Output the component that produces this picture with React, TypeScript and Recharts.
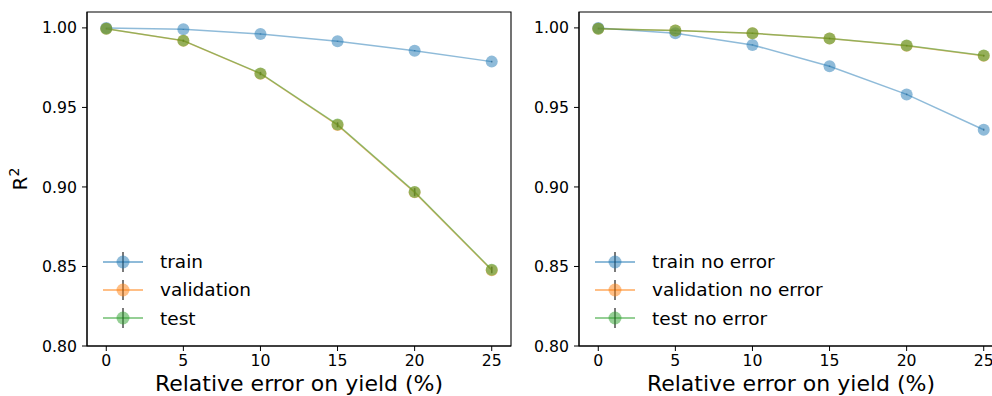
import React from "react";
import {
  LineChart,
  Line,
  XAxis,
  YAxis,
  ErrorBar,
  ReferenceArea,
} from "recharts";

const errorLevels = [0, 5, 10, 15, 20, 25];
const xTicks = [0, 5, 10, 15, 20, 25];
const yTicks = [0.8, 0.85, 0.9, 0.95, 1.0];

// left panel
const trainR2 = [1.0, 0.9991, 0.9962, 0.9916, 0.9857, 0.9788];
const trainErr = [0.0001, 0.0002, 0.0003, 0.0003, 0.0004, 0.0005];
const validationR2 = [0.9994, 0.9919, 0.9712, 0.9389, 0.8966, 0.8477];
const validationErr = [0.0002, 0.0006, 0.001, 0.0015, 0.0025, 0.002];
const testR2 = [0.9994, 0.992, 0.9714, 0.9392, 0.8969, 0.848];
const testErr = [0.0002, 0.0006, 0.001, 0.0015, 0.0025, 0.002];

// right panel
const trainNoErrR2 = [1.0, 0.9966, 0.9893, 0.9759, 0.9582, 0.936];
const trainNoErrErr = [0.0001, 0.0002, 0.0003, 0.0004, 0.0005, 0.0006];
const validationNoErrR2 = [0.9994, 0.9984, 0.9966, 0.9933, 0.9888, 0.9825];
const validationNoErrErr = [0.0002, 0.0003, 0.0003, 0.0004, 0.0004, 0.0005];
const testNoErrR2 = [0.9994, 0.9983, 0.9966, 0.9934, 0.9889, 0.9826];
const testNoErrErr = [0.0002, 0.0003, 0.0003, 0.0004, 0.0004, 0.0005];

const FONT = "DejaVu Sans";
const BLUE = "#1f77b4";
const ORANGE = "#ff7f0e";
const GREEN = "#2ca02c";

type Series = { name: string; color: string; values: number[]; errs: number[] };

const LegendBox = ({ items }: { items: Series[] }) => (
  <div style={{ position: "absolute", left: 103, top: 247.5, fontFamily: FONT, fontSize: 18.5, color: "#000", whiteSpace: "nowrap" }}>
    {items.map((s) => (
      <div key={s.name} style={{ display: "flex", alignItems: "center", height: 28.3 }}>
        <svg width={57} height={28} style={{ display: "block" }}>
          <line x1={0} x2={40} y1={14} y2={14} stroke={s.color} strokeOpacity={0.5} strokeWidth={2} />
          <line x1={20} x2={20} y1={4} y2={24} stroke="#222" strokeOpacity={0.6} strokeWidth={2} />
          <circle cx={20} cy={14} r={6.5} fill={s.color} fillOpacity={0.5} />
        </svg>
        <span>{s.name}</span>
      </div>
    ))}
  </div>
);

const Panel = ({ series, left, yLabel }: { series: Series[]; left: number; yLabel: boolean }) => {
  const data = errorLevels.map((x, i) => {
    const row: Record<string, number> = { x };
    series.forEach((s, k) => {
      row["s" + k] = s.values[i];
      row["e" + k] = s.errs[i];
    });
    return row;
  });

  return (
    <div style={{ position: "absolute", left, top: 0, width: 520, height: 396 }}>
      <LineChart width={520} height={396} data={data} margin={{ top: 12, right: 9, bottom: 0, left: 0 }}>
        <XAxis
          dataKey="x"
          type="number"
          domain={[-1.25, 26.25]}
          ticks={xTicks}
          allowDataOverflow
          height={50}
          tickSize={5}
          tickMargin={4}
          stroke="#000"
          tick={{ fill: "#000", fontSize: 15.7, fontFamily: FONT }}
          label={({ viewBox }: any) => (
            <text
              x={viewBox.x + viewBox.width / 2}
              y={391}
              textAnchor="middle"
              fontFamily={FONT}
              fontSize={22}
              fill="#000"
            >
              Relative error on yield (%)
            </text>
          )}
        />
        <YAxis
          type="number"
          domain={[0.8, 1.01]}
          ticks={yTicks}
          allowDataOverflow
          width={87}
          tickSize={5}
          tickMargin={5}
          stroke="#000"
          tickFormatter={(v: number) => v.toFixed(2)}
          tick={{ fill: "#000", fontSize: 15.7, fontFamily: FONT }}
          label={
            yLabel
              ? ({ viewBox }: any) => {
                  const cy = viewBox.y + viewBox.height / 2;
                  return (
                    <text
                      x={27}
                      y={cy}
                      transform={`rotate(-90, 27, ${cy})`}
                      textAnchor="middle"
                      fontFamily={FONT}
                      fontSize={20}
                      fill="#000"
                    >
                      R<tspan fontSize={14} dy={-8}>2</tspan>
                    </text>
                  );
                }
              : undefined
          }
        />
        <ReferenceArea
          x1={-1.25}
          x2={26.25}
          y1={0.8}
          y2={1.01}
          fill="none"
          stroke="#000"
          strokeWidth={1.1}
          ifOverflow="visible"
        />
        {series.map((s, k) => (
          <Line
            key={s.name}
            dataKey={"s" + k}
            name={s.name}
            type="linear"
            stroke={s.color}
            strokeOpacity={0.5}
            strokeWidth={1.5}
            dot={{ r: 6, fill: s.color, fillOpacity: 0.5, stroke: "none" }}
            activeDot={false}
            isAnimationActive={false}
          >
            <ErrorBar dataKey={"e" + k} width={0} stroke="#222" strokeOpacity={0.6} strokeWidth={1.5} direction="y" isAnimationActive={false} />
          </Line>
        ))}
      </LineChart>
      <LegendBox items={series} />
    </div>
  );
};

const App = () => {
  const leftSeries: Series[] = [
    { name: "train", color: BLUE, values: trainR2, errs: trainErr },
    { name: "validation", color: ORANGE, values: validationR2, errs: validationErr },
    { name: "test", color: GREEN, values: testR2, errs: testErr },
  ];
  const rightSeries: Series[] = [
    { name: "train no error", color: BLUE, values: trainNoErrR2, errs: trainNoErrErr },
    { name: "validation no error", color: ORANGE, values: validationNoErrR2, errs: validationNoErrErr },
    { name: "test no error", color: GREEN, values: testNoErrR2, errs: testNoErrErr },
  ];
  return (
    <div
      style={{
        position: "absolute",
        left: 0,
        top: 0,
        width: 992,
        height: 396,
        overflow: "hidden",
        background: "#fff",
      }}
    >
      <Panel series={leftSeries} left={0} yLabel />
      <Panel series={rightSeries} left={492} yLabel={false} />
    </div>
  );
};

export default App;
